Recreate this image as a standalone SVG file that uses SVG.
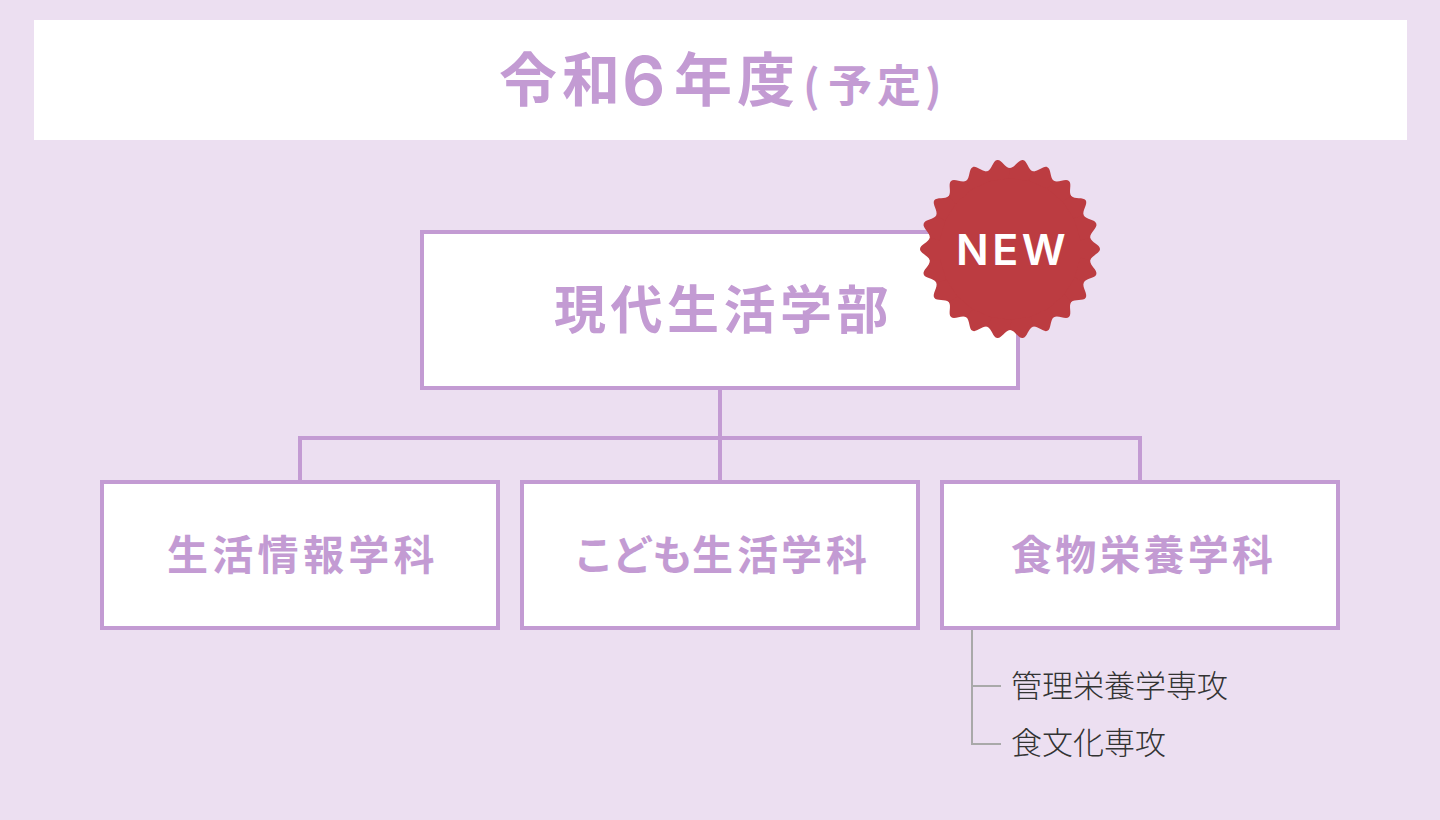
<svg xmlns="http://www.w3.org/2000/svg" width="1440" height="820" viewBox="0 0 1440 820">
<style>
text{font-family:"Noto Sans CJK JP","Noto Sans",sans-serif}
.box{fill:#fff;stroke:#C39BD3;stroke-width:4}
.p{fill:#C39BD3;font-weight:700}
.s{fill:#333;font-size:31px;letter-spacing:0;font-weight:300}
.c{fill:none;stroke:#C39BD3;stroke-width:4}
.g{fill:none;stroke:#A9A9A9;stroke-width:2}
</style>
<defs><path id="tooth" d="M70-11.53H80.2C81.2-6.6 90-4.5 90 0C90 4.5 81.2 6.6 80.2 11.53H70Z" fill="#BC3C41"/></defs>
<rect width="1440" height="820" fill="#ECDFF1"/>
<g id="header"><rect x="34" y="20" width="1373" height="120" fill="#fff"/>
<text class="p" x="499" y="101" font-size="58" letter-spacing="5">令和</text>
<text class="p" x="622" y="105" font-size="68" style="font-family:Inter,sans-serif;font-weight:600">6</text>
<text class="p" x="674" y="101" font-size="58" letter-spacing="5">年度</text>
<text class="p" x="803 828 877 925" y="102" font-size="44">(予定)</text></g>
<g id="connectors">
<path class="c" d="M720 390V480M300 480V438H1140V480"/>
<path class="g" d="M972 630V744H1001M972 686H1001"/>
</g>
<g id="faculty"><rect class="box" x="422" y="232" width="596" height="156"/>
<text class="p" x="554" y="329" font-size="52" letter-spacing="4.5">現代生活学部</text></g>
<g id="badge"><circle cx="1010" cy="249" r="80.8" fill="#BC3C41"/>
<use href="#tooth" transform="translate(1010 249)"/>
<use href="#tooth" transform="translate(1010 249) rotate(16.364)"/>
<use href="#tooth" transform="translate(1010 249) rotate(32.727)"/>
<use href="#tooth" transform="translate(1010 249) rotate(49.091)"/>
<use href="#tooth" transform="translate(1010 249) rotate(65.455)"/>
<use href="#tooth" transform="translate(1010 249) rotate(81.818)"/>
<use href="#tooth" transform="translate(1010 249) rotate(98.182)"/>
<use href="#tooth" transform="translate(1010 249) rotate(114.545)"/>
<use href="#tooth" transform="translate(1010 249) rotate(130.909)"/>
<use href="#tooth" transform="translate(1010 249) rotate(147.273)"/>
<use href="#tooth" transform="translate(1010 249) rotate(163.636)"/>
<use href="#tooth" transform="translate(1010 249) rotate(180)"/>
<use href="#tooth" transform="translate(1010 249) rotate(196.364)"/>
<use href="#tooth" transform="translate(1010 249) rotate(212.727)"/>
<use href="#tooth" transform="translate(1010 249) rotate(229.091)"/>
<use href="#tooth" transform="translate(1010 249) rotate(245.455)"/>
<use href="#tooth" transform="translate(1010 249) rotate(261.818)"/>
<use href="#tooth" transform="translate(1010 249) rotate(278.182)"/>
<use href="#tooth" transform="translate(1010 249) rotate(294.545)"/>
<use href="#tooth" transform="translate(1010 249) rotate(310.909)"/>
<use href="#tooth" transform="translate(1010 249) rotate(327.273)"/>
<use href="#tooth" transform="translate(1010 249) rotate(343.636)"/>
<text x="956" y="265" font-size="43" letter-spacing="3.5" fill="#fff" font-weight="600" style="font-family:Inter,sans-serif">NEW</text></g>
<g id="dept1"><rect class="box" x="102" y="482" width="396" height="146"/>
<text class="p" x="167" y="570" font-size="41" letter-spacing="4.3">生活情報学科</text></g>
<g id="dept2"><rect class="box" x="522" y="482" width="396" height="146"/>
<text class="p" x="573 612 652 692 737 781 826" y="570" font-size="41">こども生活学科</text></g>
<g id="dept3"><rect class="box" x="942" y="482" width="396" height="146"/>
<text class="p" x="1011" y="570" font-size="41" letter-spacing="3.2">食物栄養学科</text></g>
<g id="major1"><text class="s" x="1011" y="697">管理栄養学専攻</text></g>
<g id="major2"><text class="s" x="1011" y="754">食文化専攻</text></g>
</svg>
